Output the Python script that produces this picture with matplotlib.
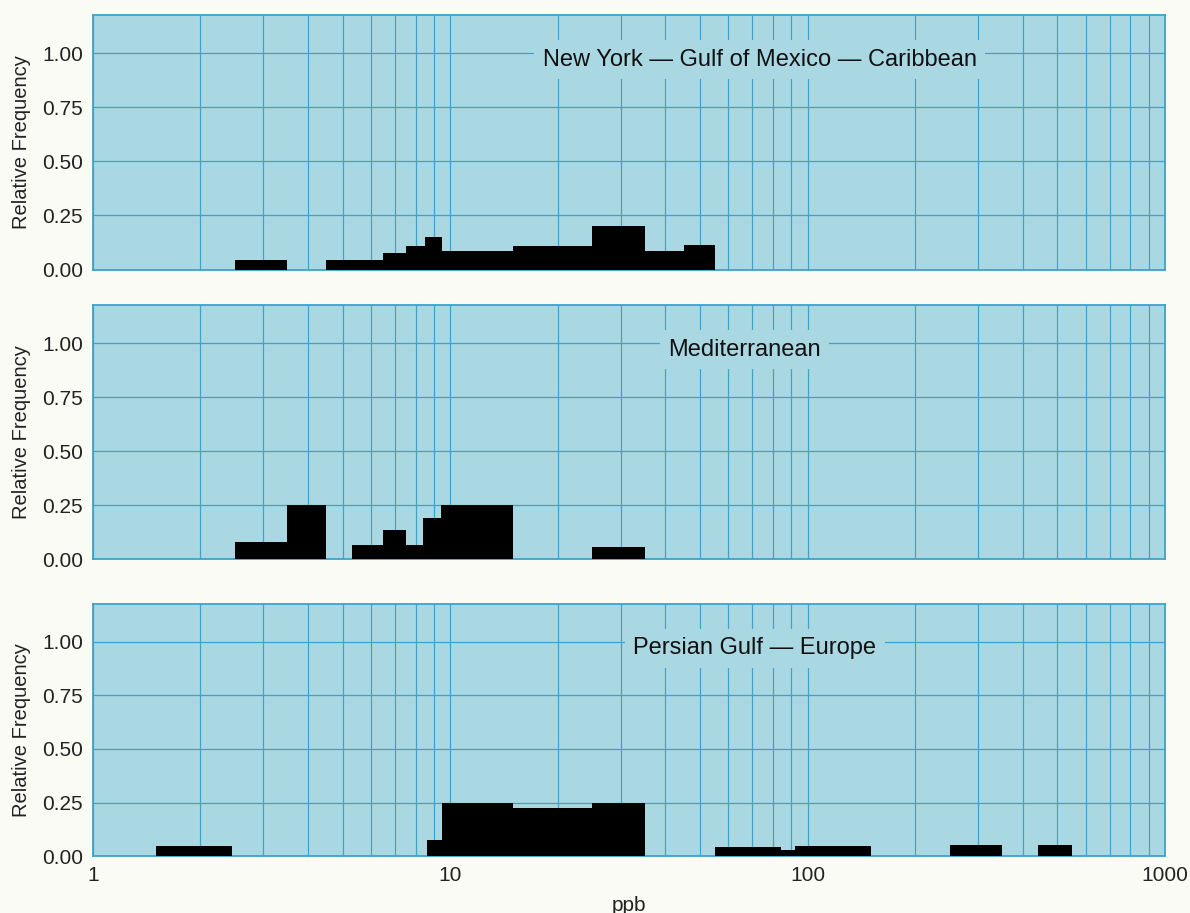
import matplotlib

matplotlib.use("Agg")

import matplotlib.pyplot as plt
from matplotlib.ticker import FixedLocator, LogLocator, NullFormatter

# bin edges (ppb) and relative frequencies
ny_left = [2.5, 4.5, 6.5, 7.5, 8.5, 9.5, 15, 25, 35, 45]
ny_right = [3.5, 6.5, 7.5, 8.5, 9.5, 15, 25, 35, 45, 55]
ny_freq = [0.045, 0.045, 0.075, 0.11, 0.15, 0.085, 0.11, 0.2, 0.085, 0.115]

med_left = [2.5, 3.5, 5.3, 6.5, 7.5, 8.4, 9.4, 25]
med_right = [3.5, 4.5, 6.5, 7.5, 8.4, 9.4, 15, 35]
med_freq = [0.08, 0.25, 0.066, 0.136, 0.066, 0.19, 0.25, 0.06]

pg_left = [1.5, 8.6, 9.5, 15, 25, 55, 84, 92, 250, 440]
pg_right = [2.45, 9.5, 15, 25, 35, 84, 92, 150, 350, 550]
pg_freq = [0.045, 0.075, 0.25, 0.224, 0.25, 0.04, 0.03, 0.045, 0.05, 0.05]

titles = ["New York \u2014 Gulf of Mexico \u2014 Caribbean",
          "Mediterranean",
          "Persian Gulf \u2014 Europe"]
x_ticks = [1, 10, 100, 1000]
y_ticks = [0.0, 0.25, 0.5, 0.75, 1.0]

plot_bg = "#a9d7e2"
grid_col = "#3fa2ca"
page_bg = "#fbfbf6"

plt.rcParams["font.family"] = ["Liberation Sans", "DejaVu Sans"]

fig = plt.figure(figsize=(11.9, 9.13), dpi=100, facecolor=page_bg)
left, width = 0.078, 0.901
rows = [(0.7048, 0.2788), (0.3872, 0.2788), (0.0624, 0.2760)]
title_x = [0.622, 0.608, 0.6175]
panels = [(ny_left, ny_right, ny_freq),
          (med_left, med_right, med_freq),
          (pg_left, pg_right, pg_freq)]

for i, ((bottom, height), (lo, hi, fr), title) in enumerate(zip(rows, panels, titles)):
    ax = fig.add_axes([left, bottom, width, height])
    ax.set_facecolor(plot_bg)
    ax.set_xscale("log")
    ax.set_xlim(1, 1000)
    ax.set_ylim(0, 1.177)

    widths = [r - l for l, r in zip(lo, hi)]
    ax.bar(lo, fr, width=widths, align="edge", color="black", zorder=3)

    ax.xaxis.set_major_locator(FixedLocator(x_ticks))
    ax.xaxis.set_minor_locator(LogLocator(base=10, subs=range(2, 10)))
    ax.xaxis.set_minor_formatter(NullFormatter())
    ax.set_yticks(y_ticks)
    ax.set_yticklabels([f"{v:.2f}" for v in y_ticks], fontsize=15)
    ax.grid(True, which="both", axis="x", color=grid_col, linewidth=0.85, zorder=1)
    ax.grid(True, which="major", axis="y", color=grid_col, linewidth=0.9, zorder=1)
    ax.set_axisbelow(True)
    ax.tick_params(which="both", length=0, pad=7, colors="#222222")
    for sp in ax.spines.values():
        sp.set_color(grid_col)
        sp.set_linewidth(1.3)

    if i < 2:
        ax.set_xticklabels([])
    else:
        ax.set_xticklabels([str(t) for t in x_ticks], fontsize=15)
        ax.set_xlabel("ppb", fontsize=15, color="#222222", labelpad=8)
    ax.set_ylabel("Relative Frequency", fontsize=14.5, color="#222222", labelpad=8)

    ax.text(title_x[i], 0.97, title, transform=ax.get_yaxis_transform(), ha="center",
            va="center", fontsize=17, color="#111111", zorder=4,
            bbox=dict(boxstyle="square,pad=0.35", facecolor=plot_bg, edgecolor="none"))

fig.savefig("out.png", dpi=100, facecolor=page_bg)
plt.close(fig)
